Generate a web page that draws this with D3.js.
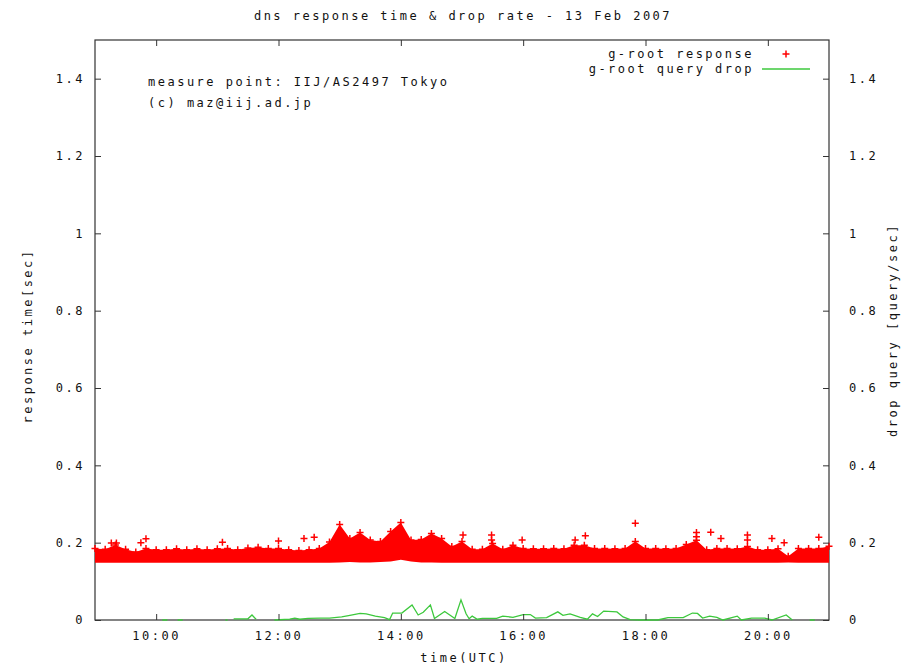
<!DOCTYPE html>
<html>
<head>
<meta charset="utf-8">
<script src="https://cdn.jsdelivr.net/npm/d3@7"></script>
<style>
    body { margin: 0; background: #fff; }
    svg text { font-family: "DejaVu Sans Mono", monospace; font-size: 12px; letter-spacing: 2.5px; fill: #111; }
    .axis line { stroke: #333; }
    .axis path { display: none; }
</style>
</head>
<body>
<svg id="chart" width="909" height="666"></svg>
<script>
"use strict";

// y tick labels (both axes share the same 0..1.5 range)
var yTicks = [0, 0.2, 0.4, 0.6, 0.8, 1, 1.2, 1.4];

// response time band, sampled every 10 min from 09:00 to 21:00
var bandUpper = [
    0.185, 0.183, 0.194, 0.183, 0.176, 0.185, 0.182, 0.182, 0.184, 0.182, 0.184, 0.182,
    0.184, 0.185, 0.182, 0.186, 0.188, 0.185, 0.185, 0.182, 0.180, 0.182, 0.185, 0.202,
    0.247, 0.211, 0.226, 0.207, 0.203, 0.229, 0.252, 0.207, 0.208, 0.224, 0.211, 0.190,
    0.203, 0.183, 0.183, 0.198, 0.183, 0.193, 0.185, 0.184, 0.184, 0.185, 0.184, 0.193,
    0.193, 0.185, 0.185, 0.184, 0.185, 0.203, 0.185, 0.185, 0.184, 0.185, 0.195, 0.206,
    0.182, 0.185, 0.185, 0.184, 0.190, 0.182, 0.182, 0.184, 0.165, 0.185, 0.185, 0.185,
    0.191
];
var bandLower = [
    0.148, 0.148, 0.148, 0.148, 0.148, 0.148, 0.148, 0.148, 0.148, 0.148, 0.148, 0.148,
    0.148, 0.148, 0.148, 0.148, 0.148, 0.148, 0.148, 0.148, 0.148, 0.148, 0.148, 0.148,
    0.149, 0.150, 0.149, 0.149, 0.150, 0.151, 0.156, 0.151, 0.149, 0.149, 0.148, 0.148,
    0.148, 0.148, 0.148, 0.148, 0.148, 0.148, 0.148, 0.148, 0.148, 0.148, 0.148, 0.148,
    0.148, 0.148, 0.148, 0.148, 0.148, 0.148, 0.148, 0.148, 0.148, 0.148, 0.148, 0.148,
    0.148, 0.148, 0.148, 0.148, 0.148, 0.148, 0.148, 0.148, 0.149, 0.148, 0.148, 0.148,
    0.148
];

// isolated response points above the band
var outlierTimes = ["09:16", "09:21", "09:45", "09:50", "11:05", "12:00", "12:25", "12:35",
    "15:01", "15:29", "15:29", "15:59", "16:51", "17:01", "17:50", "18:50", "18:50",
    "19:04", "19:14", "19:40", "19:40", "20:04", "20:16", "20:50"];
var outlierValues = [0.199, 0.199, 0.200, 0.210, 0.201, 0.204, 0.211, 0.214,
    0.220, 0.220, 0.207, 0.207, 0.207, 0.218, 0.250, 0.226, 0.215,
    0.227, 0.211, 0.220, 0.207, 0.211, 0.200, 0.214];

// query drop rate (null = no data)
var dropTimes = ["10:06", "10:11", "10:16", "10:21", "10:26", "10:40", "11:08", "11:10", "11:13",
    "11:16", "11:30", "11:34", "11:38", "11:47", "11:56", "12:11", "12:16", "12:21", "12:29",
    "12:41", "12:50", "13:02", "13:10", "13:20", "13:26", "13:35", "13:44", "13:49", "13:52",
    "14:01", "14:11", "14:17", "14:22", "14:29", "14:33", "14:43", "14:53", "14:59", "15:04",
    "15:07", "15:10", "15:15", "15:20", "15:34", "15:40", "15:50", "16:00", "16:07", "16:12",
    "16:23", "16:34", "16:39", "16:46", "16:56", "17:03", "17:08", "17:13", "17:19", "17:32",
    "17:38", "17:45", "17:55", "18:12", "18:22", "18:37", "18:46", "18:51", "18:56", "19:03",
    "19:10", "19:16", "19:30", "19:34", "19:44", "19:57", "20:04", "20:18", "20:24", "20:32",
    "20:41", "20:46"];
var dropValues = [0, 0, null, 0, 0, null, 0, 0, null,
    0.003, 0.003, 0.013, 0.002, null, 0, 0.002, 0.005, 0.002, 0.004,
    0.005, 0.005, 0.008, 0.012, 0.017, 0.016, 0.010, 0.006, 0.001, 0.018,
    0.018, 0.039, 0.013, 0.020, 0.039, 0.004, 0.022, 0.004, 0.052, 0.016,
    0.003, 0.010, 0.002, 0.004, 0.004, 0.010, 0.007, 0.014, 0.014, 0.005,
    0.006, 0.021, 0.012, 0.016, 0.007, 0.002, 0.016, 0.009, 0.023, 0.021,
    0.008, 0.001, 0, 0, 0.006, 0.006, 0.018, 0.017, 0.005, 0.010,
    0.007, 0, 0.010, 0, 0.005, 0.005, 0, 0.013, 0, null,
    0, 0];

var parseTime = d3.timeParse("%H:%M");

function create_graph(selector) {
    var svg = d3.select(selector);
    var left = 95, right = 829, top = 40, bottom = 620;

    var x = d3.scaleTime()
        .domain([parseTime("09:00"), parseTime("21:00")])
        .range([left, right]);
    var y = d3.scaleLinear().domain([0, 1.5]).range([bottom, top]);

    var bandTimes = d3.timeMinute.every(10).range(parseTime("09:00"), parseTime("21:01"));
    var band = bandTimes.map(function (t, i) {
        return { time: t, hi: bandUpper[i], lo: bandLower[i] };
    });
    var outliers = outlierTimes.map(function (t, i) {
        return { time: parseTime(t), value: outlierValues[i] };
    });
    var drops = dropTimes.map(function (t, i) {
        return { time: parseTime(t), value: dropValues[i] };
    });

    // frame
    svg.append("rect")
        .attr("x", left).attr("y", top)
        .attr("width", right - left).attr("height", bottom - top)
        .style("fill", "none").style("stroke", "#333").style("stroke-width", 1.2);

    // response band
    var area = d3.area()
        .x(function (d) { return x(d.time); })
        .y0(function (d) { return y(d.lo); })
        .y1(function (d) { return y(d.hi); });
    svg.append("path").datum(band).attr("d", area).style("fill", "#ff0000");

    var plus = "M-3.5,0H3.5M0,-3.5V3.5";
    svg.append("g").selectAll("path.edge").data(band).enter().append("path")
        .attr("class", "edge")
        .attr("transform", function (d) { return "translate(" + x(d.time) + "," + y(d.hi) + ")"; })
        .attr("d", plus)
        .style("stroke", "#ff0000").style("stroke-width", 1.5).style("fill", "none");
    svg.append("g").selectAll("path.out").data(outliers).enter().append("path")
        .attr("class", "out")
        .attr("transform", function (d) { return "translate(" + x(d.time) + "," + y(d.value) + ")"; })
        .attr("d", plus)
        .style("stroke", "#ff0000").style("stroke-width", 1.5).style("fill", "none");

    // drop rate line
    var line = d3.line()
        .defined(function (d) { return d.value !== null; })
        .x(function (d) { return x(d.time); })
        .y(function (d) { return y(d.value); });
    svg.append("path").datum(drops).attr("d", line)
        .style("fill", "none").style("stroke", "#3cc83c").style("stroke-width", 1.3);

    // axes (gnuplot style: ticks inside, mirrored)
    var hourTicks = d3.timeHour.every(2);
    svg.append("g").attr("class", "axis")
        .attr("transform", "translate(0," + bottom + ")")
        .call(d3.axisBottom(x).ticks(hourTicks).tickSizeInner(-6).tickSizeOuter(0)
            .tickPadding(11).tickFormat(d3.timeFormat("%H:%M")));
    svg.append("g").attr("class", "axis")
        .attr("transform", "translate(0," + top + ")")
        .call(d3.axisTop(x).ticks(hourTicks).tickSizeInner(-6).tickSizeOuter(0).tickFormat(""));
    svg.append("g").attr("class", "axis")
        .attr("transform", "translate(" + left + ",0)")
        .call(d3.axisLeft(y).tickValues(yTicks).tickSizeInner(-6).tickSizeOuter(0)
            .tickPadding(10).tickFormat(function (d) { return String(d); }));
    svg.append("g").attr("class", "axis")
        .attr("transform", "translate(" + right + ",0)")
        .call(d3.axisRight(y).tickValues(yTicks).tickSizeInner(-6).tickSizeOuter(0)
            .tickPadding(20).tickFormat(function (d) { return String(d); }));
    svg.selectAll(".axis").attr("font-family", null).attr("font-size", null);

    // titles
    svg.append("text").attr("x", 463).attr("y", 20).attr("text-anchor", "middle")
        .text("dns response time & drop rate - 13 Feb 2007");
    svg.append("text").attr("x", 464).attr("y", 662).attr("text-anchor", "middle")
        .text("time(UTC)");
    svg.append("text").attr("transform", "translate(32,336) rotate(-90)")
        .attr("text-anchor", "middle").text("response time[sec]");
    svg.append("text").attr("transform", "translate(897,330) rotate(-90)")
        .attr("text-anchor", "middle").text("drop query [query/sec]");

    // notes
    svg.append("text").attr("x", 148).attr("y", 86).text("measure point: IIJ/AS2497 Tokyo");
    svg.append("text").attr("x", 148).attr("y", 107).text("(c) maz@iij.ad.jp");

    // legend
    var legend = svg.append("g");
    legend.append("text").attr("x", 754).attr("y", 58).attr("text-anchor", "end")
        .text("g-root response");
    legend.append("path").attr("transform", "translate(786,54)").attr("d", plus)
        .style("stroke", "#ff0000").style("stroke-width", 1.5);
    legend.append("text").attr("x", 754).attr("y", 73).attr("text-anchor", "end")
        .text("g-root query drop");
    legend.append("line").attr("x1", 762).attr("x2", 810).attr("y1", 69).attr("y2", 69)
        .style("stroke", "#3cc83c").style("stroke-width", 1.5);
}

create_graph("#chart");
</script>
</body>
</html>
